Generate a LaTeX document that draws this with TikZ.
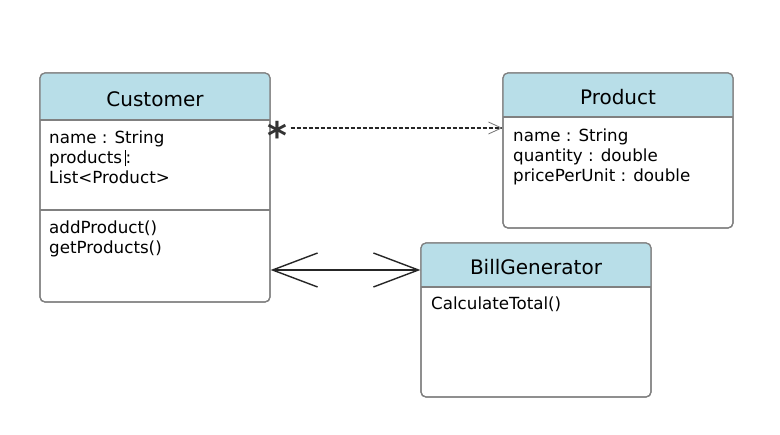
\documentclass[tikz,border=0pt]{standalone}
\usepackage{fontspec}
\setmainfont{DejaVu Sans}
\usetikzlibrary{arrows.meta}
\definecolor{hdr}{HTML}{B8DEE8}
\definecolor{bord}{HTML}{808080}
\tikzset{
  classbox/.style={draw=bord, line width=1.2pt, rounded corners=5pt, inner sep=0pt, fill=white},
  title/.style={font=\fontsize{20}{24}\selectfont, inner sep=0pt, text=black},
  body/.style={font=\fontsize{16.7}{20}\selectfont, inner sep=0pt, anchor=north west, align=left, text=black},
  divider/.style={draw=bord, line width=1.2pt},
}
\begin{document}
\begin{tikzpicture}[x=1pt,y=-1pt]
\useasboundingbox (0,0) rectangle (780,435);
\fill[white] (0,0) rectangle (780,435);

% Customer
\node[classbox, minimum width=230pt, minimum height=229pt] (cust) at (155,187.5) {};
\begin{scope}
  \clip[rounded corners=5pt] (40,73) rectangle (270,302);
  \fill[hdr] (40,73) rectangle (270,120);
\end{scope}
\draw[classbox, fill=none] (40,73) rectangle (270,302);
\draw[divider] (40,120) -- (270,120);
\draw[divider] (40,210) -- (270,210);
\node[title] (custT) at (155,99) {Customer};
\node[body] (custA) at (49,130.5) {name : String\\products\,\rule[-3pt]{0.8pt}{16pt}:\\List<Product>};
\node[body] (custM) at (49,220.5) {addProduct()\\getProducts()};

% Product
\node[classbox, minimum width=230pt, minimum height=155pt] (prod) at (618,150.5) {};
\begin{scope}
  \clip[rounded corners=5pt] (503,73) rectangle (733,228);
  \fill[hdr] (503,73) rectangle (733,117);
\end{scope}
\draw[classbox, fill=none] (503,73) rectangle (733,228);
\draw[divider] (503,117) -- (733,117);
\node[title] (prodT) at (618,97) {Product};
\node[body] (prodA) at (513,128.5) {name : String\\quantity : double\\pricePerUnit : double};

% BillGenerator
\node[classbox, minimum width=230pt, minimum height=154pt] (bill) at (536,320) {};
\begin{scope}
  \clip[rounded corners=5pt] (421,243) rectangle (651,397);
  \fill[hdr] (421,243) rectangle (651,287);
\end{scope}
\draw[classbox, fill=none] (421,243) rectangle (651,397);
\draw[divider] (421,287) -- (651,287);
\node[title] (billT) at (536,267) {BillGenerator};
\node[body] (billM) at (431,296.5) {CalculateTotal()};

% dashed dependency
\draw[draw=black!85, line width=1.1pt, dash pattern=on 4pt off 2pt, shorten <=20pt,
  -{Straight Barb[length=13pt,width=12pt,line width=0.8pt, color=black!55]}]
  (cust.east |- 0,128) -- (prod.west |- 0,128);
\node[font=\bfseries\fontsize{38}{38}\selectfont, text=black!80, inner sep=0pt] (star) at (277.5,135) {*};

% association
\draw[line width=1.4pt, black!85,
  {Straight Barb[length=45pt,width=34pt,line width=1.4pt]}-{Straight Barb[length=45pt,width=34pt,line width=1.4pt]}]
  (cust.east |- 0,270) -- (bill.west |- 0,270);
\end{tikzpicture}
\end{document}
